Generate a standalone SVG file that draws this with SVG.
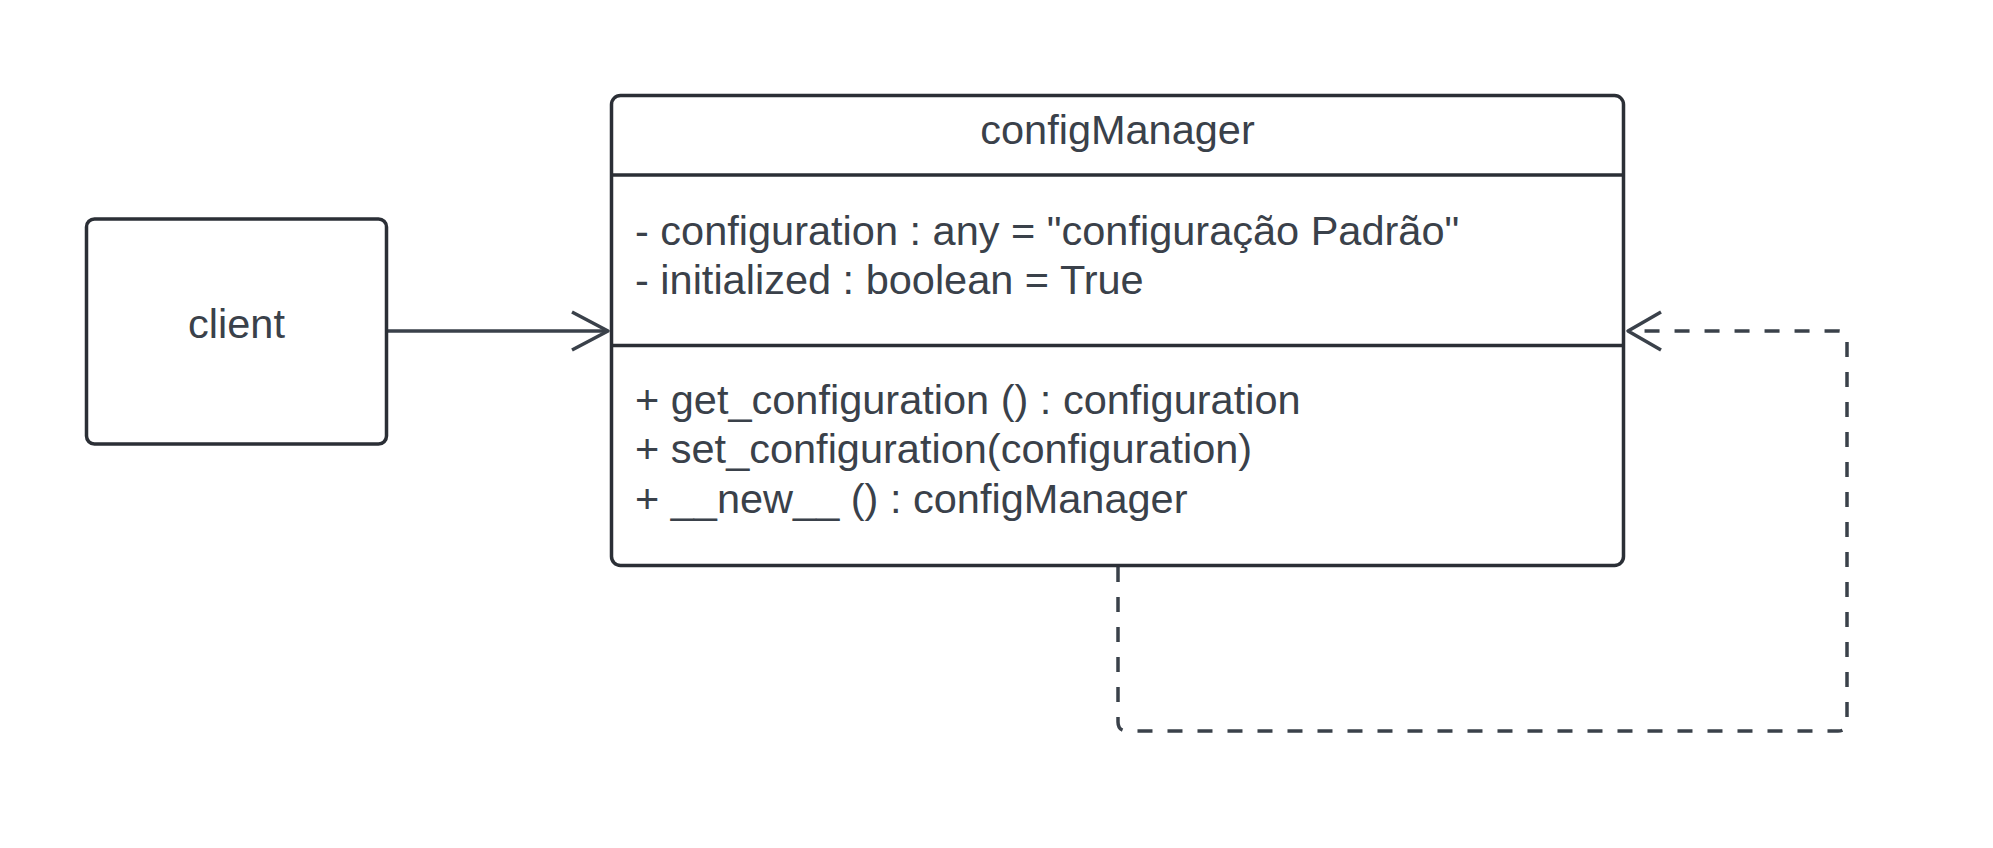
<svg xmlns="http://www.w3.org/2000/svg" width="1993" height="848" viewBox="0 0 1993 848">
<style>
.box{fill:#ffffff;stroke:#2b2f36;stroke-width:3.5}
.div{stroke:#2b2f36;stroke-width:3.5;fill:none}
.t{font-family:"Liberation Sans",Arial,sans-serif;font-size:41.5px;fill:#3a414a}
.c{stroke:#3a414a;stroke-width:3.5;fill:none;stroke-linejoin:round}
.d{stroke-dasharray:15 15}
</style>
<rect width="1993" height="848" fill="#ffffff"/>
<g id="connectors">
<path class="c" d="M386,331 H607"/>
<path class="c" d="M572,312 L608,331 L572,350"/>
<path class="c d" d="M1118,567 V722 Q1118,731 1127,731 H1838 Q1847,731 1847,722 V340 Q1847,331 1838,331 H1631"/>
<path class="c" d="M1661,312 L1628,331 L1661,350"/>
</g>
<g id="client">
<rect class="box" x="86.5" y="219" width="300" height="225" rx="8"/>
<text class="t" x="236.5" y="338" text-anchor="middle">client</text>
</g>
<g id="configManager">
<rect class="box" x="611.5" y="95.5" width="1012" height="470" rx="9"/>
<line class="div" x1="611.5" y1="175" x2="1623.5" y2="175"/>
<line class="div" x1="611.5" y1="345.5" x2="1623.5" y2="345.5"/>
<text class="t" x="1117.5" y="143.5" text-anchor="middle">configManager</text>
<text class="t" x="635" y="244.5">- configuration : any = "configuração Padrão"</text>
<text class="t" x="635" y="293.5">- initialized : boolean = True</text>
<text class="t" x="635" y="413.5">+ get_configuration () : configuration</text>
<text class="t" x="635" y="463">+ set_configuration(configuration)</text>
<text class="t" x="635" y="512.5">+ __new__ () : configManager</text>
</g>
</svg>
